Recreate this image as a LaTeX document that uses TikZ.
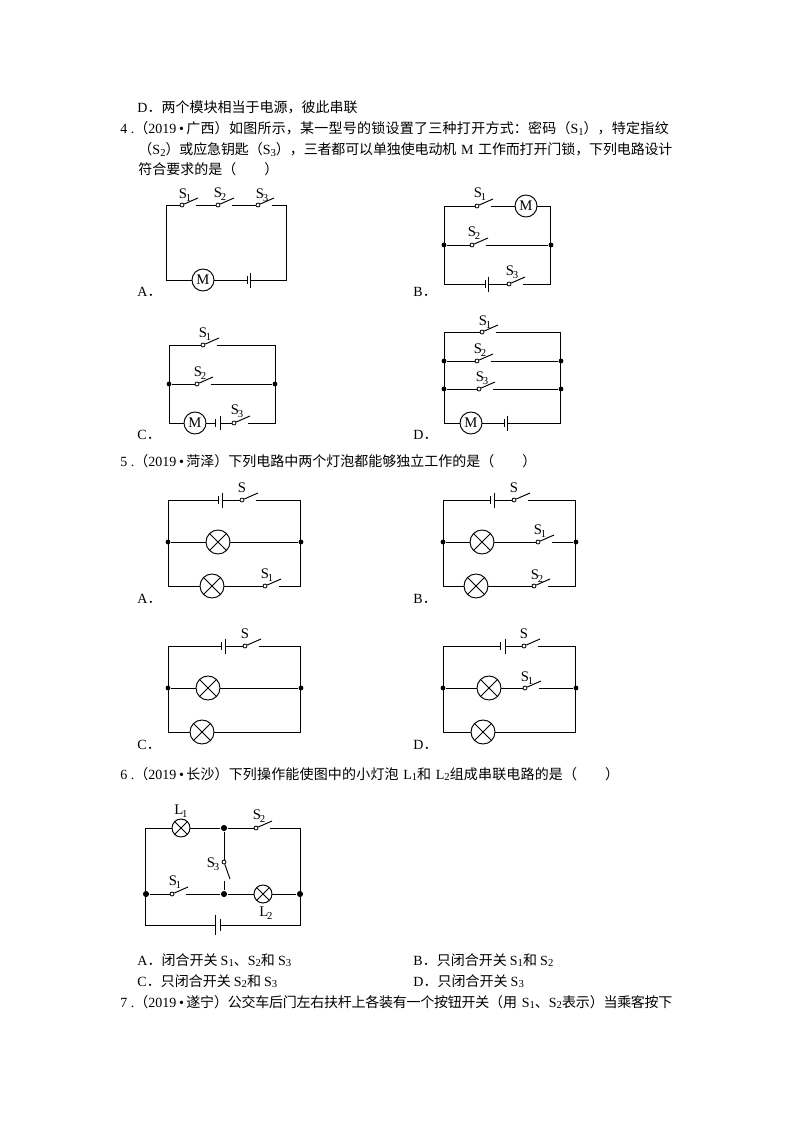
\documentclass[tikz,border=0pt]{standalone}
\usepackage{fontspec}
\setmainfont{Liberation Serif}
\newfontfamily\cjk{Noto Sans CJK SC}
\usetikzlibrary{calc}
\XeTeXlinebreaklocale "zh"
\XeTeXlinebreakskip=0pt plus 1.5pt minus 0.6pt
\def\zh#1{{\cjk #1}}
\def\sub#1{\raisebox{-0.3ex}{\fontsize{8}{8}\selectfont #1}}
\def\lsub#1{\kern-0.9pt\raisebox{-0.45ex}{\fontsize{8}{8}\selectfont #1}}
\def\qno#1{#1\hbox to 5.25pt{\hfil.}}
\def\blt{\hbox to 7.5pt{\hfil•\hfil}}
\def\corners(#1)(#2,#3,#4,#5){\coordinate (#1NW) at (#2,#4); \coordinate (#1NE) at (#3,#4); \coordinate (#1SW) at (#2,#5); \coordinate (#1SE) at (#3,#5);}
\def\swtch(#1)(#2,#3){\node[pinc] (#1) at (#2,#3) {}; \coordinate (#1r) at (#2+13.5,#3); \draw (#1) -- (#2+16,#3-7);}
\def\cellv(#1)(#2,#3,#4)(#5,#6){\coordinate (#1l) at (#2,#4); \coordinate (#1r) at (#3,#4); \draw (#2,#4-#5) -- (#2,#4+#5); \draw (#3,#4-#6) -- (#3,#4+#6);}
\tikzset{
	every path/.style={line width=0.72pt},
	lab/.style={inner sep=0pt,font=\fontsize{11}{11}\selectfont},
	txt/.style={anchor=base west,inner sep=0pt,font=\fontsize{10.5}{12}\selectfont},
	jus/.style={txt,text width=#1*0.75pt,execute at begin node={\parindent=0pt\parfillskip=0pt\relax}},
	pinc/.style={circle,draw,line width=0.6pt,fill=white,inner sep=0pt,minimum size=3pt},
	jct/.style={circle,fill=black,inner sep=0pt,minimum size=3.6pt},
	bjct/.style={circle,fill=black,inner sep=0pt,minimum size=4.6pt},
	motor/.style={circle,draw,inner sep=0pt,minimum size=16.5pt,font=\fontsize{11}{11}\selectfont},
	lamp/.style={circle,draw,inner sep=0pt,minimum size=#1*0.75pt,path picture={
		\draw (path picture bounding box.north west) -- (path picture bounding box.south east);
		\draw (path picture bounding box.south west) -- (path picture bounding box.north east);}},
}
\begin{document}
\begin{tikzpicture}[x=0.75pt,y=-0.75pt]
		\useasboundingbox (0,0) rectangle (794,1123);
		%%%%% TEXT %%%%%
		\node[txt] (lineD) at (137,113) {D\zh{．两个模块相当于电源，彼此串联}};
		\node[jus=552] (lineA) at (120,134) {\qno{4}\zh{（}2019\blt\zh{广西）如图所示，某一型号的锁设置了三种打开方式：密码（}S\sub1\zh{），特定指纹}};
		\node[jus=534] (lineB) at (138,155) {\zh{（}S\sub2\zh{）或应急钥匙（}S\sub3\zh{），三者都可以单独使电动机 }M \zh{工作而打开门锁，下列电路设计}};
		\node[txt] (lineC) at (138,175) {\zh{符合要求的是（　　）}};
		\node[txt] (lineE) at (120,466) {\qno{5}\zh{（}2019\blt\zh{菏泽）下列电路中两个灯泡都能够独立工作的是（　　）}};
		\node[jus=501] (lineF) at (120,779) {\qno{6}\zh{（}2019\blt\zh{长沙）下列操作能使图中的小灯泡 }L\sub1\zh{和 }L\sub2\zh{组成串联电路的是（　　）}};
		\node[txt] (optA) at (137,965) {A\zh{．闭合开关 }S\sub1\zh{、}S\sub2\zh{和 }S\sub3};
		\node[txt] (optB) at (413,965) {B\zh{．只闭合开关 }S\sub1\zh{和 }S\sub2};
		\node[txt] (optC) at (137,986) {C\zh{．只闭合开关 }S\sub2\zh{和 }S\sub3};
		\node[txt] (optD) at (413,986) {D\zh{．只闭合开关 }S\sub3};
		\node[jus=552] (lineG) at (120,1007) {\qno{7}\zh{（}2019\blt\zh{遂宁）公交车后门左右扶杆上各装有一个按钮开关（用 }S\sub1\zh{、}S\sub2\zh{表示）当乘客按下}};
		
		%%%%% QUESTION 4 %%%%%
		\node[txt] (tagA) at (137,296) {A\zh{．}};
		\corners(a)(166,286,205,280)
		\swtch(aS)(182,205) \swtch(aT)(218,205) \swtch(aU)(258,205)
		\node[motor] (aM) at (203,280) {M};
		\cellv(aC)(247,250,280)(4,7.5)
		\draw (aS) -- (aNW) -- (aSW) -- (aM);
		\draw (aSr) -- (aT);
		\draw (aTr) -- (aU);
		\draw (aUr) -- (aNE) -- (aSE) -- (aCr);
		\draw (aCl) -- (aM);
		\node[lab] (aLS) at (185,195) {S\lsub1};
		\node[lab] (aLT) at (220,194) {S\lsub2};
		\node[lab] (aLU) at (262,195) {S\lsub3};
		
		\node[txt] (tagB) at (413,296) {B\zh{．}};
		\corners(b)(444,550,206,284)
		\node[jct] (bJl) at (444,245) {};
		\node[jct] (bJr) at (551,245) {};
		\swtch(bS)(477,206) \swtch(bT)(472,245) \swtch(bU)(509,284)
		\node[motor] (bM) at (526,206) {M};
		\cellv(bC)(485,488,284)(4,7.5)
		\draw (bS) -- (bNW) -- (bSW) -- (bCl);
		\draw (bSr) -- (bM) -- (bNE) -- (bSE) -- (bUr);
		\draw (bCr) -- (bU);
		\draw (bJl) -- (bT);
		\draw (bTr) -- (bJr);
		\node[lab] (bLS) at (480,194) {S\lsub1};
		\node[lab] (bLT) at (474,233) {S\lsub2};
		\node[lab] (bLU) at (512,272) {S\lsub3};
		
		\node[txt] (tagC) at (137,439) {C\zh{．}};
		\corners(c)(169,275,345,423)
		\node[jct] (cJl) at (169,384) {};
		\node[jct] (cJr) at (275,384) {};
		\swtch(cS)(203,345) \swtch(cT)(197,384) \swtch(cU)(234,423)
		\node[motor] (cM) at (195,423) {M};
		\cellv(cC)(215,220,423)(4,7)
		\draw (cS) -- (cNW) -- (cSW) -- (cM);
		\draw (cSr) -- (cNE) -- (cSE) -- (cUr);
		\draw (cM) -- (cCl);
		\draw (cCr) -- (cU);
		\draw (cJl) -- (cT);
		\draw (cTr) -- (cJr);
		\node[lab] (cLS) at (205,334) {S\lsub1};
		\node[lab] (cLT) at (200,373) {S\lsub2};
		\node[lab] (cLU) at (237,411) {S\lsub3};
		
		\node[txt] (tagD) at (413,439) {D\zh{．}};
		\corners(d)(444,560,332,423)
		\node[jct] (dJa) at (444,361) {};
		\node[jct] (dJb) at (561,361) {};
		\node[jct] (dJc) at (444,389) {};
		\node[jct] (dJd) at (561,389) {};
		\swtch(dS)(482,332) \swtch(dT)(477,361) \swtch(dU)(479,389)
		\node[motor] (dM) at (471,423) {M};
		\cellv(dC)(504,507,423)(4,7.5)
		\draw (dS) -- (dNW) -- (dSW) -- (dM);
		\draw (dSr) -- (dNE) -- (dSE) -- (dCr);
		\draw (dCl) -- (dM);
		\draw (dJa) -- (dT);
		\draw (dTr) -- (dJb);
		\draw (dJc) -- (dU);
		\draw (dUr) -- (dJd);
		\node[lab] (dLS) at (485,322) {S\lsub1};
		\node[lab] (dLT) at (480,350) {S\lsub2};
		\node[lab] (dLU) at (482,378) {S\lsub3};
		
		%%%%% QUESTION 5 %%%%%
		\node[txt] (tagE) at (137,603) {A\zh{．}};
		\corners(e)(168,300,500,586)
		\node[jct] (eJl) at (168,542) {};
		\node[jct] (eJr) at (301,542) {};
		\cellv(eC)(218,222,500)(4,7.5)
		\swtch(eS)(242,500) \swtch(eT)(265,586)
		\node[lamp=24] (eL) at (218,542) {};
		\node[lamp=24] (eK) at (212,586) {};
		\draw (eCl) -- (eNW) -- (eSW) -- (eK);
		\draw (eCr) -- (eS);
		\draw (eSr) -- (eNE) -- (eSE) -- (eTr);
		\draw (eK) -- (eT);
		\draw (eJl) -- (eL) -- (eJr);
		\node[lab] (eLS) at (242,488) {S};
		\node[lab] (eLT) at (267,575) {S\lsub1};
		
		\node[txt] (tagF) at (413,603) {B\zh{．}};
		\corners(f)(443,575,500,586)
		\node[jct] (fJl) at (443,542) {};
		\node[jct] (fJr) at (576,542) {};
		\cellv(fC)(490,494,500)(4,7.5)
		\swtch(fS)(514,500) \swtch(fT)(538,542) \swtch(fU)(534,586)
		\node[lamp=24] (fL) at (482,542) {};
		\node[lamp=24] (fK) at (476,586) {};
		\draw (fCl) -- (fNW) -- (fSW) -- (fK);
		\draw (fCr) -- (fS);
		\draw (fSr) -- (fNE) -- (fSE) -- (fUr);
		\draw (fK) -- (fU);
		\draw (fJl) -- (fL) -- (fT);
		\draw (fTr) -- (fJr);
		\node[lab] (fLS) at (514,488) {S};
		\node[lab] (fLT) at (540,531) {S\lsub1};
		\node[lab] (fLU) at (537,576) {S\lsub2};
		
		\node[txt] (tagG) at (137,749) {C\zh{．}};
		\corners(g)(168,300,646,732)
		\node[jct] (gJl) at (168,688) {};
		\node[jct] (gJr) at (301,688) {};
		\cellv(gC)(221,225,646)(4,7.5)
		\swtch(gS)(245,646)
		\node[lamp=24] (gL) at (208,688) {};
		\node[lamp=24] (gK) at (202,732) {};
		\draw (gCl) -- (gNW) -- (gSW) -- (gK);
		\draw (gCr) -- (gS);
		\draw (gSr) -- (gNE) -- (gSE) -- (gK);
		\draw (gJl) -- (gL) -- (gJr);
		\node[lab] (gLS) at (245,634) {S};
		
		\node[txt] (tagH) at (413,749) {D\zh{．}};
		\corners(h)(443,575,646,732)
		\node[jct] (hJl) at (443,688) {};
		\node[jct] (hJr) at (576,688) {};
		\cellv(hC)(500,505,646)(4,7.5)
		\swtch(hS)(524,646) \swtch(hT)(525,688)
		\node[lamp=24] (hL) at (489,688) {};
		\node[lamp=24] (hK) at (483,732) {};
		\draw (hCl) -- (hNW) -- (hSW) -- (hK);
		\draw (hCr) -- (hS);
		\draw (hSr) -- (hNE) -- (hSE) -- (hK);
		\draw (hJl) -- (hL) -- (hT);
		\draw (hTr) -- (hJr);
		\node[lab] (hLS) at (524,634) {S};
		\node[lab] (hLT) at (527,678) {S\lsub1};
		
		%%%%% QUESTION 6 %%%%%
		\corners(k)(145,300,828,925)
		\node[bjct] (kJa) at (224,828) {};
		\node[bjct] (kJb) at (224,894) {};
		\node[bjct] (kJc) at (146,894) {};
		\node[bjct] (kJd) at (300,894) {};
		\node[lamp=18] (kL) at (181,828) {};
		\node[lamp=18] (kK) at (263,894) {};
		\swtch(kS)(172,894) \swtch(kT)(256,828)
		\node[pinc] (kU) at (224,862) {};
		\coordinate (kUb) at (224,881);
		\draw (kU) -- (230,879);
		\cellv(kC)(215,220,925)(10,6)
		\draw (kL) -- (kNW) -- (kSW) -- (kCl);
		\draw (kCr) -- (kSE) -- (kNE) -- (kTr);
		\draw (kL) -- (kJa) -- (kT);
		\draw (kJa) -- (kU);
		\draw (kUb) -- (kJb);
		\draw (kJc) -- (kS);
		\draw (kSr) -- (kJb) -- (kK) -- (kJd);
		\node[lab] (kLa) at (181,811) {L\lsub1};
		\node[lab] (kLb) at (259,816) {S\lsub2};
		\node[lab] (kLc) at (213,864) {S\lsub3};
		\node[lab] (kLd) at (175,882) {S\lsub1};
		\node[lab] (kLe) at (266,913) {L\lsub2};
		
		%%%%% END %%%%%
	\end{tikzpicture}
\end{document}
